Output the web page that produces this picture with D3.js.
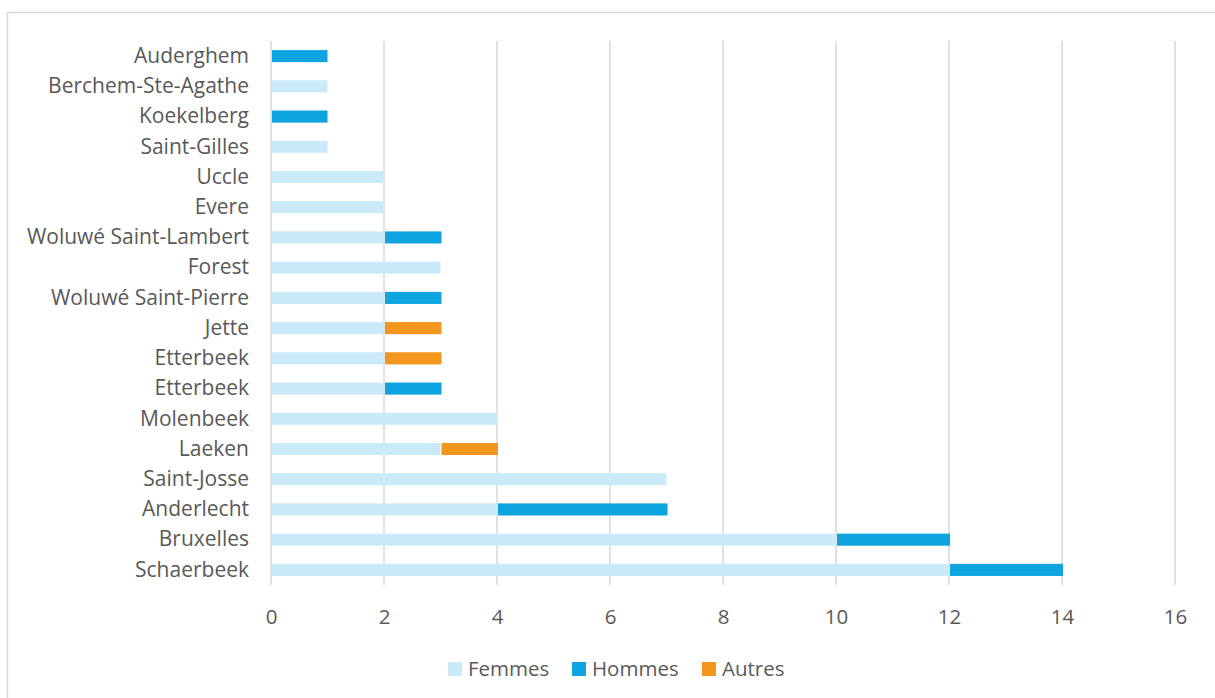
<!DOCTYPE html>
<html>
<head>
<meta charset="utf-8">
<script src="https://cdn.jsdelivr.net/npm/d3@7"></script>
<style>
  body { margin: 0; background: #fff; }
  text { font-family: "Open Sans", "Noto Sans", sans-serif; fill: #595959; }
</style>
</head>
<body>
<div id="chart"></div>
<script>
// data, top row first
var communes = ["Auderghem", "Berchem-Ste-Agathe", "Koekelberg", "Saint-Gilles", "Uccle", "Evere",
  "Woluwé Saint-Lambert", "Forest", "Woluwé Saint-Pierre", "Jette", "Etterbeek", "Etterbeek",
  "Molenbeek", "Laeken", "Saint-Josse", "Anderlecht", "Bruxelles", "Schaerbeek"];
var femmes = [0, 1, 0, 1, 2, 2, 2, 3, 2, 2, 2, 2, 4, 3, 7, 4, 10, 12];
var hommes = [1, 0, 1, 0, 0, 0, 1, 0, 1, 0, 0, 1, 0, 0, 0, 3, 2, 2];
var autres = [0, 0, 0, 0, 0, 0, 0, 0, 0, 1, 1, 0, 0, 1, 0, 0, 0, 0];
var seriesNames = ["Femmes", "Hommes", "Autres"];
var colors = ["#caeaf9", "#0ea4df", "#f2961d"];
var xTicks = [0, 2, 4, 6, 8, 10, 12, 14, 16];

var svgWidth = 1215;
var svgHeight = 698;
var margin = {top: 41, left: 271, right: 40, bottom: 113};
var width = 1175 - margin.left;
var height = 585 - margin.top;

var svg = d3.select("#chart").append("svg")
  .attr("width", svgWidth)
  .attr("height", svgHeight);

// chart frame
svg.append("rect")
  .attr("x", 7.5).attr("y", 12.5)
  .attr("width", 1215).attr("height", 700)
  .attr("fill", "none")
  .attr("stroke", "#d9d9d9")
  .attr("stroke-width", 1.5);

var g = svg.append("g")
  .attr("transform", "translate(" + margin.left + "," + margin.top + ")");

var rows = communes.map(function(c, i) {
  return {key: i, name: c, Femmes: femmes[i], Hommes: hommes[i], Autres: autres[i]};
});

var x = d3.scaleLinear().domain([0, 16]).range([0, width]);
var y = d3.scaleBand().domain(rows.map(d => d.key)).range([0, height]).paddingInner(0.6).paddingOuter(0.3);

// gridlines
g.selectAll(".grid")
  .data(xTicks)
  .enter().append("line")
  .attr("x1", d => x(d)).attr("x2", d => x(d))
  .attr("y1", 0).attr("y2", height)
  .attr("stroke", "#d9d9d9")
  .attr("stroke-width", 1.5);

var stack = d3.stack().keys(seriesNames)(rows);

g.selectAll(".serie")
  .data(stack)
  .enter().append("g")
  .attr("fill", (d, i) => colors[i])
  .selectAll("rect")
  .data(d => d)
  .enter().append("rect")
  .attr("x", d => x(d[0]) + 1)
  .attr("y", d => y(d.data.key))
  .attr("width", d => Math.max(0, x(d[1]) - x(d[0]) - (d[0] === 0 ? 1 : 0)))
  .attr("height", y.bandwidth());

// category labels
var yAxis = d3.axisLeft(y).tickSize(0).tickPadding(22).tickFormat(i => communes[i]);
g.append("g").call(yAxis)
  .call(a => a.select(".domain").remove())
  .selectAll("text")
  .style("font-size", "21px")
  .attr("fill", "#595959");

// x axis labels
var xAxis = d3.axisBottom(x).tickValues(xTicks).tickSize(0).tickPadding(24);
g.append("g")
  .attr("transform", "translate(0," + height + ")")
  .call(xAxis)
  .call(a => a.select(".domain").remove())
  .selectAll("text")
  .style("font-size", "20.5px")
  .attr("fill", "#595959");

// legend
var legendX = [448, 572, 702];
var legend = svg.append("g");
seriesNames.forEach(function(name, i) {
  legend.append("rect")
    .attr("x", legendX[i]).attr("y", 662)
    .attr("width", 14).attr("height", 14)
    .attr("fill", colors[i]);
  legend.append("text")
    .attr("x", legendX[i] + 20).attr("y", 669)
    .attr("dy", "0.35em")
    .style("font-size", "20.5px")
    .text(name);
});
</script>
</body>
</html>
